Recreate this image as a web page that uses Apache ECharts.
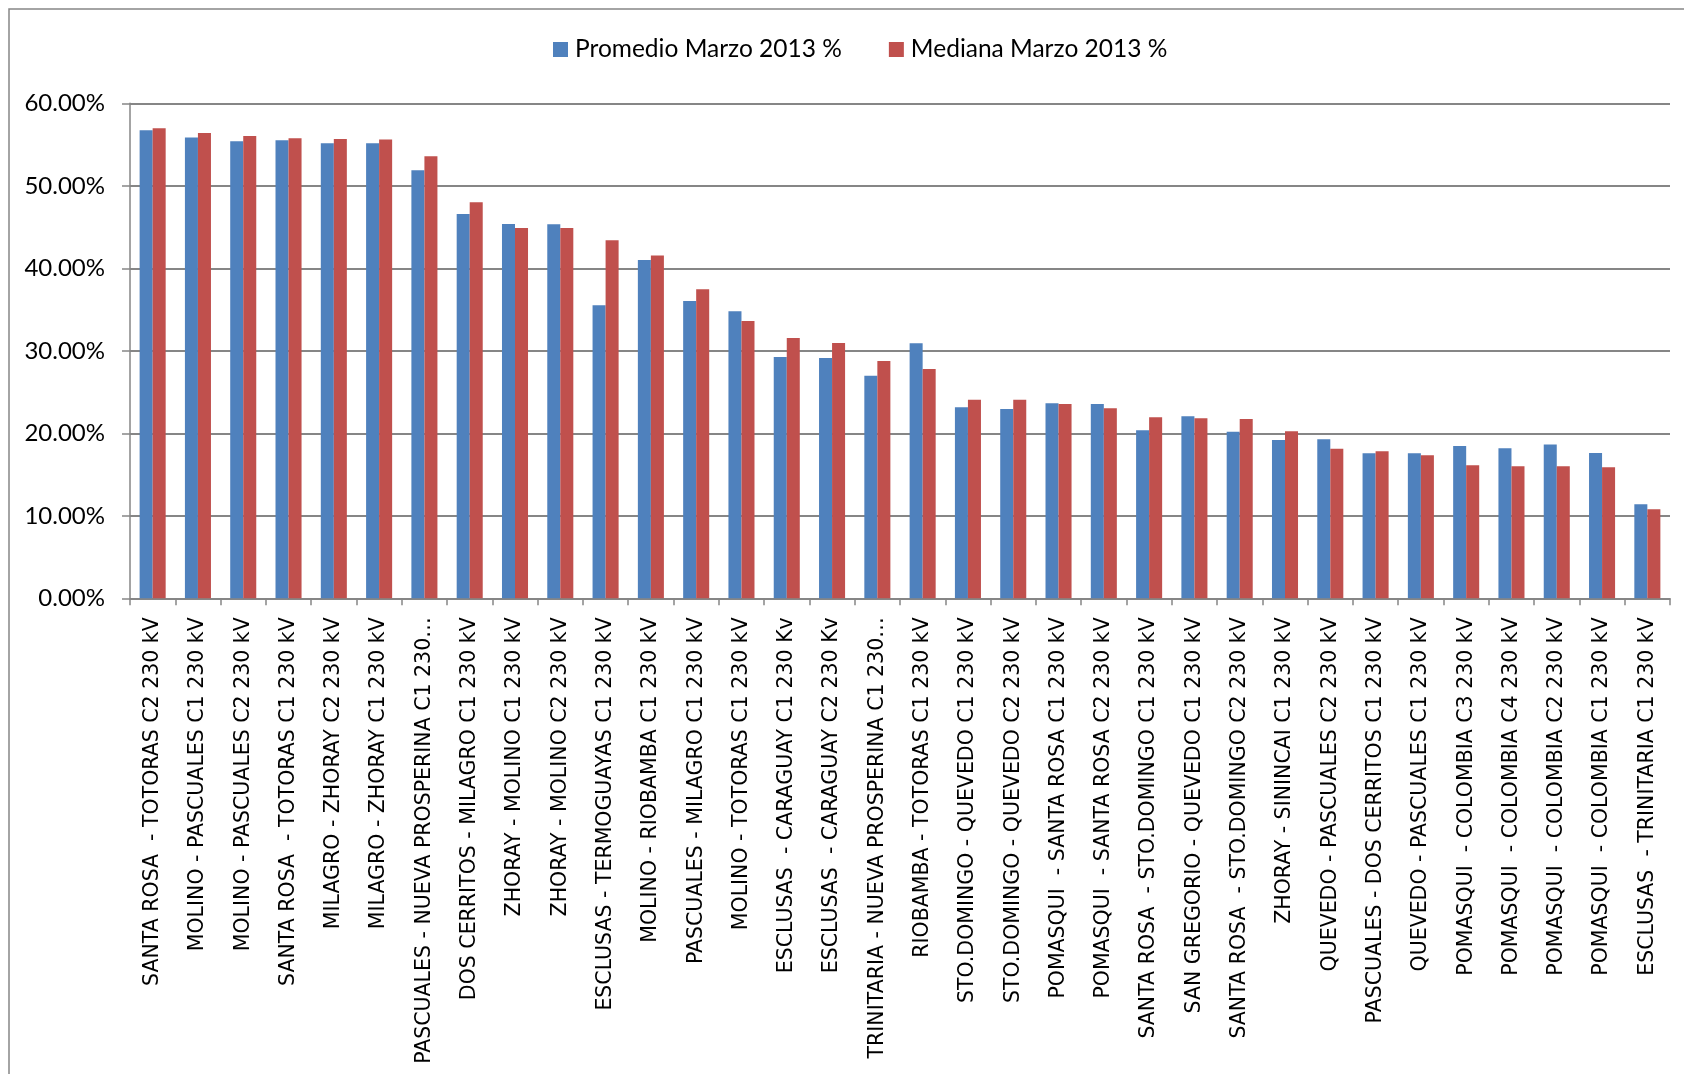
<!DOCTYPE html>
<html>
<head>
<meta charset="utf-8">
<script src="https://cdn.jsdelivr.net/npm/echarts@6/dist/echarts.min.js"></script>
<style>
html,body{margin:0;padding:0;background:#fff;}
#chart{width:1684px;height:1074px;}
</style>
</head>
<body>
<div id="chart"></div>
<script>
const categories = [
  "SANTA ROSA  - TOTORAS C2 230 kV",
  "MOLINO - PASCUALES C1 230 kV",
  "MOLINO - PASCUALES C2 230 kV",
  "SANTA ROSA  - TOTORAS C1 230 kV",
  "MILAGRO - ZHORAY C2 230 kV",
  "MILAGRO - ZHORAY C1 230 kV",
  "PASCUALES - NUEVA PROSPERINA C1 230 kV",
  "DOS CERRITOS - MILAGRO C1 230 kV",
  "ZHORAY - MOLINO C1 230 kV",
  "ZHORAY - MOLINO C2 230 kV",
  "ESCLUSAS - TERMOGUAYAS C1 230 kV",
  "MOLINO - RIOBAMBA C1 230 kV",
  "PASCUALES - MILAGRO C1 230 kV",
  "MOLINO - TOTORAS C1 230 kV",
  "ESCLUSAS  - CARAGUAY C1 230 Kv",
  "ESCLUSAS  - CARAGUAY C2 230 Kv",
  "TRINITARIA - NUEVA PROSPERINA C1 230 kV",
  "RIOBAMBA - TOTORAS C1 230 kV",
  "STO.DOMINGO - QUEVEDO C1 230 kV",
  "STO.DOMINGO - QUEVEDO C2 230 kV",
  "POMASQUI  - SANTA ROSA C1 230 kV",
  "POMASQUI  - SANTA ROSA C2 230 kV",
  "SANTA ROSA  - STO.DOMINGO C1 230 kV",
  "SAN GREGORIO - QUEVEDO C1 230 kV",
  "SANTA ROSA  - STO.DOMINGO C2 230 kV",
  "ZHORAY - SININCAI C1 230 kV",
  "QUEVEDO - PASCUALES C2 230 kV",
  "PASCUALES - DOS CERRITOS C1 230 kV",
  "QUEVEDO - PASCUALES C1 230 kV",
  "POMASQUI  - COLOMBIA C3 230 kV",
  "POMASQUI  - COLOMBIA C4 230 kV",
  "POMASQUI  - COLOMBIA C2 230 kV",
  "POMASQUI  - COLOMBIA C1 230 kV",
  "ESCLUSAS  - TRINITARIA C1 230 kV"
];
const seriesNames = ["Promedio Marzo 2013 %", "Mediana Marzo 2013 %"];
const promedio = [0.5673,0.5584,0.5539,0.5552,0.5515,0.5515,0.5188,0.4659,0.4537,0.4533,0.3552,0.4101,0.3604,0.3479,0.2925,0.2913,0.2699,
                  0.3091,0.2315,0.2295,0.2364,0.2356,0.2036,0.2206,0.2020,0.1919,0.1927,0.1758,0.1758,0.1846,0.1818,0.1863,0.1762,0.1139];
const mediana  = [0.5697,0.5640,0.5604,0.5576,0.5568,0.5560,0.5358,0.4800,0.4489,0.4489,0.4339,0.4154,0.3745,0.3362,0.3156,0.3095,0.2877,
                  0.2780,0.2408,0.2408,0.2356,0.2303,0.2194,0.2182,0.2174,0.2024,0.1814,0.1782,0.1733,0.1612,0.1600,0.1600,0.1588,0.1079];
const yTicks = {min: 0, max: 0.6, interval: 0.1};

const chart = echarts.init(document.getElementById('chart'), null, {renderer: 'canvas'});
const gridColor = '#868686';
chart.setOption({
  backgroundColor: '#ffffff',
  animation: false,
  color: ['#4F81BD', '#C0504D'],
  graphic: [{
    type: 'rect', shape: {x: 9, y: 9, width: 1720, height: 1120},
    style: {fill: 'none', stroke: '#868686', lineWidth: 1.5}, silent: true, z: -1
  }],
  legend: {
    left: 548, top: 32,
    itemWidth: 15, itemHeight: 15, itemGap: 47,
    icon: 'rect',
    textStyle: {fontFamily: 'Lato', fontSize: 24.5, color: '#000', padding: [0,0,0,2]},
    data: seriesNames
  },
  grid: {left: 130, right: 14, top: 103.3, bottom: 475.7, containLabel: false, outerBoundsMode: 'none'},
  xAxis: {
    type: 'category',
    data: categories,
    axisLine: {show: true, lineStyle: {color: gridColor, width: 1.5}},
    axisTick: {show: true, alignWithLabel: false, length: 7, lineStyle: {color: gridColor, width: 1.5}},
    axisLabel: {
      interval: 0, rotate: 90, margin: 19,
      fontFamily: 'DejaVu Sans', fontSize: 20.5, color: '#000',
      width: 448.5, overflow: 'truncate', ellipsis: '…'
    }
  },
  yAxis: {
    type: 'value',
    min: yTicks.min, max: yTicks.max, interval: yTicks.interval,
    axisLine: {show: true, lineStyle: {color: gridColor, width: 1.5}},
    axisTick: {show: true, length: 8, lineStyle: {color: gridColor, width: 1.5}},
    splitLine: {show: true, lineStyle: {color: gridColor, width: 2}},
    axisLabel: {
      margin: 25, fontFamily: 'Lato', fontSize: 24, color: '#000',
      formatter: v => (v * 100).toFixed(2) + '%'
    }
  },
  series: [
    {name: seriesNames[0], type: 'bar', data: promedio, barGap: '0%', barCategoryGap: '42.5%'},
    {name: seriesNames[1], type: 'bar', data: mediana, barGap: '0%', barCategoryGap: '42.5%'}
  ]
});
</script>
</body>
</html>
